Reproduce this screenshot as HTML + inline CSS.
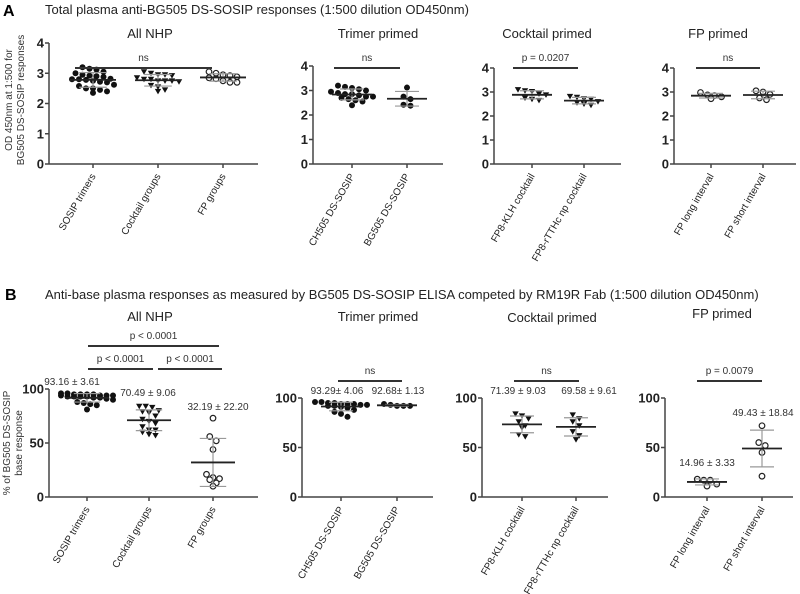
<!DOCTYPE html>
<html><head><meta charset="utf-8"><style>
html,body{margin:0;padding:0;background:#fff;}
svg{display:block;font-family:"Liberation Sans",Arial,sans-serif;}
</style></head><body>
<svg id="fig" width="800" height="594" viewBox="0 0 800 594" xmlns="http://www.w3.org/2000/svg">
<text x="3" y="16" font-size="16" font-weight="bold">A</text>
<text x="45" y="14" font-size="13" fill="#222">Total plasma anti-BG505 DS-SOSIP responses (1:500 dilution OD450nm)</text>
<text x="5" y="300" font-size="16" font-weight="bold">B</text>
<text x="45" y="299" font-size="13" fill="#222">Anti-base plasma responses as measured by BG505 DS-SOSIP ELISA competed by RM19R Fab (1:500 dilution OD450nm)</text>
<text transform="translate(12,100) rotate(-90)" text-anchor="middle" font-size="10" fill="#333">OD 450nm at 1:500 for</text>
<text transform="translate(24,100) rotate(-90)" text-anchor="middle" font-size="10" fill="#333">BG505 DS-SOSIP responses</text>
<text transform="translate(10,443) rotate(-90)" text-anchor="middle" font-size="10" fill="#333">% of BG505 DS-SOSIP</text>
<text transform="translate(22,443) rotate(-90)" text-anchor="middle" font-size="10" fill="#333">base response</text>
</svg>
<script>
// ---- data ----
const aTicks = [0,1,2,3,4];
const bTicks = [0,50,100];
const catA1 = ["SOSIP trimers","Cocktail groups","FP groups"];
const catA2 = ["CH505 DS-SOSIP","BG505 DS-SOSIP"];
const catA3 = ["FP8-KLH cocktail","FP8-rTTHc np cocktail"];
const catA4 = ["FP long interval","FP short interval"];
const aSosip = [3.15,3.12,3.2,3.05,3.0,2.95,2.92,2.88,2.9,2.82,2.78,2.8,2.75,2.8,2.72,2.7,2.62,2.58,2.5,2.45,2.4,2.5,2.35];
const aCocktail = [3.0,3.05,2.95,2.92,2.95,2.85,2.8,2.75,2.75,2.72,2.75,2.8,2.6,2.55,2.45,2.4];
const aFP = [3.05,3.0,2.95,2.92,2.88,2.85,2.82,2.75,2.7,2.7];
const aCH505 = [3.2,3.15,3.1,3.05,3.0,2.95,2.9,2.85,2.85,2.8,2.75,2.75,2.7,2.65,2.6,2.55,2.4];
const aBG505 = [3.12,2.75,2.65,2.42,2.38];
const aKLH = [3.1,3.05,3.02,2.92,2.88,2.75,2.7,2.65];
const aRTT = [2.82,2.78,2.72,2.7,2.6,2.55,2.5,2.45];
const aLong = [2.98,2.88,2.85,2.8,2.72];
const aShort = [3.05,3.0,2.9,2.75,2.68];
const bSosip = [96,96,95,95,95,95,94,94,94,94,93,93,93,93,92,92,91,90,88,87,86,85,81];
const bCocktail = [84,84,83,80,79,78,75,72,70,68,65,62,62,60,58,57];
const bFP = [73,56,52,44,21,18,17,16,13,10];
const bCH505 = [96,96,95,95,94,94,94,93,93,92,92,91,90,88,86,84,81];
const bBG505 = [94,93,92,92,92];
const bKLH = [84,82,79,76,72,70,63,61];
const bRTT = [83,79,76,72,66,62,58];
const bLong = [18,17,17,13,11];
const bShort = [72,55,52,45,21];
const bSummary1 = ["93.16 ± 3.61","70.49 ± 9.06","32.19  ± 22.20"];
const bSummary2 = ["93.29± 4.06","92.68± 1.13"];
const bSummary3 = ["71.39 ± 9.03","69.58 ± 9.61"];
const bSummary4 = ["14.96 ± 3.33","49.43 ± 18.84"];

const NS="http://www.w3.org/2000/svg";
const svg=document.getElementById('fig');
function mk(tag,attrs,parent){const e=document.createElementNS(NS,tag);for(const k in attrs)e.setAttribute(k,attrs[k]);(parent||svg).appendChild(e);return e;}
function stats(d){const m=d.reduce((a,b)=>a+b,0)/d.length;const v=d.reduce((a,b)=>a+(b-m)*(b-m),0)/(d.length-1);return [m,Math.sqrt(v)];}

function panel(c){
  const g=mk('g',{});
  
  
  const y=v=>c.y0-(v/c.ymax)*(c.y0-c.yTop);
  const t=mk('text',{x:c.titleX,y:c.titleY,'text-anchor':'middle','font-size':13,fill:'#222'},g);t.textContent=c.title;
  
  
  const ya=mk('line',{x1:c.ax,x2:c.ax,y1:c.yTop,y2:c.y0,stroke:'#444','stroke-width':1.5},g);
  
  
  const xa=mk('line',{x1:c.ax,x2:c.xEnd,y1:c.y0,y2:c.y0,stroke:'#444','stroke-width':1.5},g);
  
  
  c.ticks.forEach(v=>{
    mk('line',{x1:c.ax-4,x2:c.ax,y1:y(v),y2:y(v),stroke:'#444','stroke-width':1.5},g);
    const tl=mk('text',{x:c.ax-5,y:y(v)+4.5,'text-anchor':'end','font-size':13,'font-weight':'bold',fill:'#222'},g);tl.textContent=v;
    
    
  });
  c.groups.forEach((gr,i)=>{
    const cx=c.xs[i];
    mk('line',{x1:cx,x2:cx,y1:c.y0,y2:c.y0+4,stroke:'#444','stroke-width':1.5},g);
    const lb=mk('text',{transform:`translate(${cx+3},${c.y0+12}) rotate(-60)`,'text-anchor':'end','font-size':10,fill:'#222'},g);lb.textContent=c.cats[i];
    
    
    // beeswarm: group points into horizontal rows, capped width
    const sorted=gr.d.slice().sort((a,b)=>b-a);
    const rows=[];
    sorted.forEach(v=>{
      const py=y(v);
      const last=rows[rows.length-1];
      if(last && Math.abs(py-last.y0)<c.bin && last.v.length<c.maxCols) last.v.push(v); else rows.push({y0:py,v:[v]});
    });
    rows.forEach(r=>{
      const n=r.v.length;const sp=c.sp;
      r.v.forEach((v,j)=>{
        const px=cx+(j-(n-1)/2)*sp, py=y(v);
        let m;
        if(gr.m==='tri') m=mk('polygon',{points:`${px-3.2},${py-2.5} ${px+3.2},${py-2.5} ${px},${py+3}`,fill:'#111'},g);
        else if(gr.m==='open') m=mk('circle',{cx:px,cy:py,r:2.8,fill:'#fff',stroke:'#222','stroke-width':1.2},g);
        else m=mk('circle',{cx:px,cy:py,r:3,fill:'#111'},g);
        
        
      });
    });
    const [mn,sd]=stats(gr.d);
    const hw=c.hw, ew=c.hw*0.6;
    [mn-sd,mn+sd].forEach(v=>mk('line',{x1:cx-ew,x2:cx+ew,y1:y(v),y2:y(v),stroke:'#999','stroke-width':1.2},g));
    mk('line',{x1:cx,x2:cx,y1:y(mn-sd),y2:y(mn+sd),stroke:'#999','stroke-width':1.2},g);
    const ml=mk('line',{x1:cx-hw,x2:cx+hw,y1:y(mn),y2:y(mn),stroke:'#222','stroke-width':1.8},g);
    
    
    if(c.summ){
      const s=mk('text',{x:c.summ[i][0],y:c.summ[i][1],'text-anchor':'middle','font-size':10,fill:'#333'},g);s.textContent=c.summ[i][2];
      
      
    }
  });
  c.sig.forEach(s=>{
    const l=mk('line',{x1:s[0],x2:s[1],y1:s[2],y2:s[2],stroke:'#333','stroke-width':2},g);
    
    
    const tx=mk('text',{x:(s[0]+s[1])/2,y:s[2]-7,'text-anchor':'middle','font-size':10,fill:'#333'},g);tx.textContent=s[3];
    
    
  });
}
const A={ymax:4,ticks:aTicks,y0:164,bin:6,sp:7,maxCols:7};
panel(Object.assign({},A,{name:'a-all-nhp',title:'All NHP',titleX:150,titleY:38,ax:49,yTop:43,xEnd:258,xs:[93,158,223],cats:catA1,hw:23,
  groups:[{d:aSosip,m:'fill'},{d:aCocktail,m:'tri'},{d:aFP,m:'open'}],sig:[[75,212,68,'ns']]}));
panel(Object.assign({},A,{name:'a-trimer-primed',title:'Trimer primed',titleX:378,titleY:38,ax:313,yTop:66,xEnd:443,xs:[352,407],cats:catA2,hw:20,
  groups:[{d:aCH505,m:'fill'},{d:aBG505,m:'fill'}],sig:[[334,400,68,'ns']]}));
panel(Object.assign({},A,{name:'a-cocktail-primed',title:'Cocktail primed',titleX:547,titleY:38,ax:494,yTop:68,xEnd:621,xs:[532,584],cats:catA3,hw:20,
  groups:[{d:aKLH,m:'tri'},{d:aRTT,m:'tri'}],sig:[[513,578,68,'p = 0.0207']]}));
panel(Object.assign({},A,{name:'a-fp-primed',title:'FP primed',titleX:718,titleY:38,ax:674,yTop:68,xEnd:796,xs:[711,763],cats:catA4,hw:20,
  groups:[{d:aLong,m:'open'},{d:aShort,m:'open'}],sig:[[696,760,68,'ns']]}));
const B={ymax:100,ticks:bTicks,y0:497,bin:5,sp:6.5,maxCols:9};
panel(Object.assign({},B,{name:'b-all-nhp',title:'All NHP',titleX:150,titleY:321,ax:49,yTop:389,xEnd:258,xs:[87,149,213],cats:catA1,hw:22,
  groups:[{d:bSosip,m:'fill'},{d:bCocktail,m:'tri'},{d:bFP,m:'open'}],
  summ:[[72,385,bSummary1[0]],[148,396,bSummary1[1]],[218,410,bSummary1[2]]],
  sig:[[88,219,346,'p < 0.0001'],[88,153,369,'p < 0.0001'],[158,222,369,'p < 0.0001']]}));
panel(Object.assign({},B,{name:'b-trimer-primed',title:'Trimer primed',titleX:378,titleY:321,ax:302,yTop:398,xEnd:433,xs:[341,397],cats:catA2,hw:20,
  groups:[{d:bCH505,m:'fill'},{d:bBG505,m:'fill'}],
  summ:[[337,394,bSummary2[0]],[398,394,bSummary2[1]]],sig:[[338,402,381,'ns']]}));
panel(Object.assign({},B,{name:'b-cocktail-primed',title:'Cocktail primed',titleX:552,titleY:322,ax:482,yTop:398,xEnd:608,xs:[522,576],cats:catA3,hw:20,
  groups:[{d:bKLH,m:'tri'},{d:bRTT,m:'tri'}],
  summ:[[518,394,bSummary3[0]],[589,394,bSummary3[1]]],sig:[[514,579,381,'ns']]}));
panel(Object.assign({},B,{name:'b-fp-primed',title:'FP primed',titleX:722,titleY:318,ax:665,yTop:398,xEnd:793,xs:[707,762],cats:catA4,hw:20,
  groups:[{d:bLong,m:'open'},{d:bShort,m:'open'}],
  summ:[[707,466,bSummary4[0]],[763,416,bSummary4[1]]],sig:[[697,762,381,'p = 0.0079']]}));
</script>
</body></html>
